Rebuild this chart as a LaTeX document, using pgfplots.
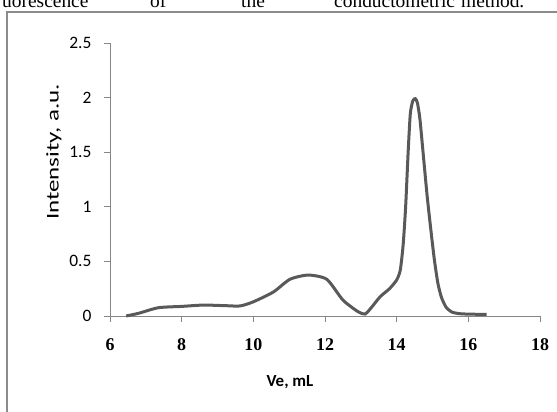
\documentclass[border=0pt]{standalone}
\usepackage{pgfplots}
\pgfplotsset{compat=1.18}
\usepackage{fontspec}
\setmainfont{Liberation Serif}
\newfontfamily\carlito{Carlito}
\definecolor{axgray}{HTML}{868686}
\definecolor{curve}{HTML}{595959}
\definecolor{framegray}{HTML}{8C8C8C}
\begin{document}
\begin{tikzpicture}[x=1bp,y=1bp]
\path[use as bounding box] (0,0) rectangle (557,411);
\begin{scope}
\clip (0,0) rectangle (557,411);
\draw[framegray, line width=1.2bp] (7,-5) -- (7,399) -- (570,399);
\begin{scope}[every node/.style={inner sep=0pt, font=\fontsize{19.5}{22}\selectfont}]
\node[anchor=base west] at (2,403) {uorescence};
\node[anchor=base west] at (150,403) {of};
\node[anchor=base west] at (241,403) {the};
\node[anchor=base west] at (334,403) {conductometric};
\node[anchor=base west] at (461,403) {method.};
\end{scope}
\end{scope}
\begin{axis}[
  at={(110bp,95bp)}, anchor=south west,
  scale only axis, width=430bp, height=273bp,
  xmin=6, xmax=18, ymin=0, ymax=2.5,
  axis lines=left,
  axis line style={axgray, line width=0.8bp, -},
  xtick={6,8,10,12,14,16,18},
  xticklabels={6,8,10,12,14,16,18},
  ytick={0,0.5,1,1.5,2,2.5},
  yticklabels={0,0.5,1,1.5,2,2.5},
  tick align=outside,
  major tick length=6bp,
  tick style={axgray, line width=0.8bp},
  x tick label style={font=\fontsize{18}{20}\selectfont\bfseries, yshift=-13bp},
  y tick label style={font=\carlito\fontsize{17.5}{20}\selectfont, xshift=-9bp},
  clip=false,
]
\addplot[curve, line width=3bp, smooth, tension=0.4] coordinates {
(6.45,0) (6.8,0.025) (7.35,0.076) (8.0,0.088) (8.6,0.1) (9.2,0.095)
(9.63,0.092) (10.0,0.13) (10.56,0.22) (11.02,0.336) (11.53,0.375)
(12.05,0.336) (12.5,0.146) (12.92,0.04) (13.12,0.018) (13.3,0.08)
(13.54,0.177) (13.8,0.25) (14.0,0.33) (14.1,0.42) (14.18,0.65)
(14.25,1.0) (14.32,1.5) (14.38,1.85) (14.45,1.97) (14.52,1.99)
(14.58,1.95) (14.65,1.8) (14.75,1.45) (14.85,1.1) (14.95,0.8)
(15.05,0.52) (15.15,0.3) (15.25,0.17) (15.38,0.08) (15.55,0.035)
(15.8,0.02) (16.2,0.016) (16.51,0.015)
};
\end{axis}
\node[rotate=90, font=\carlito\fontsize{18}{20}\selectfont] at (54,259) {\scalebox{1.39}[1]{Intensity, a.u.}};
\node[font=\carlito\bfseries\fontsize{17}{20}\selectfont] at (290,29) {Ve, mL};
\end{tikzpicture}
\end{document}
